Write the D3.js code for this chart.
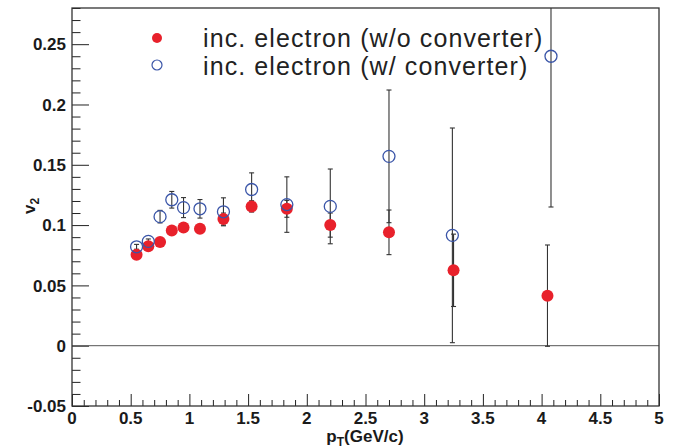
<!DOCTYPE html>
<html>
<head>
<meta charset="utf-8">
<script src="https://cdn.jsdelivr.net/npm/d3@7"></script>
<style>
  body { margin: 0; background: #fff; }
  text { font-family: "Liberation Sans", Arial, Helvetica, sans-serif; }
</style>
</head>
<body>
<div id="chart-area"></div>
<script>
// inc. electron v2 vs pT, with and without converter

var ptNoConv  = [0.55, 0.65, 0.75, 0.85, 0.95, 1.09, 1.29, 1.53, 1.83, 2.2, 2.7, 3.25, 4.05];
var v2NoConv  = [0.0755, 0.0825, 0.086, 0.0955, 0.098, 0.097, 0.105, 0.1155, 0.1135, 0.100, 0.094, 0.0625, 0.0415];
var errNoConv = [0.002, 0.002, 0.002, 0.002, 0.002, 0.002, 0.005, 0.0047, 0.007, 0.01, 0.0185, 0.03, 0.042];

var ptConv  = [0.55, 0.65, 0.75, 0.85, 0.95, 1.09, 1.29, 1.53, 1.83, 2.2, 2.7, 3.24, 4.08];
var v2Conv  = [0.082, 0.0865, 0.107, 0.121, 0.1145, 0.1135, 0.111, 0.1295, 0.117, 0.1155, 0.157, 0.0915, 0.24];
var errConv = [0.002, 0.002, 0.0052, 0.0069, 0.0083, 0.0077, 0.0116, 0.0138, 0.023, 0.031, 0.055, 0.089, 0.125];

var xTickValues = [0, 0.5, 1, 1.5, 2, 2.5, 3, 3.5, 4, 4.5, 5];
var xTickLabels = ["0", "0.5", "1", "1.5", "2", "2.5", "3", "3.5", "4", "4.5", "5"];
var yTickValues = [-0.05, 0, 0.05, 0.1, 0.15, 0.2, 0.25];
var yTickLabels = ["-0.05", "0", "0.05", "0.1", "0.15", "0.2", "0.25"];

var legendLabels = ["inc. electron (w/o converter)", "inc. electron (w/ converter)"];

var margin = {left: 72, right: 24, top: 8, bottom: 42};
var width = 683 - margin.left - margin.right;
var height = 448 - margin.top - margin.bottom;

var red = "#e8212b";
var blue = "#3a55a8";

var svg = d3.select("#chart-area")
  .append("svg")
  .attr("width", 683)
  .attr("height", 448);

var g = svg.append("g")
  .attr("transform", "translate(" + margin.left + "," + margin.top + ")");

var x = d3.scaleLinear()
  .domain([0, 5])
  .range([0, width]);

var y = d3.scaleLinear()
  .domain([-0.05, 0.28])
  .range([height, 0]);

svg.append("clipPath")
  .attr("id", "clip")
  .append("rect")
  .attr("width", width)
  .attr("height", height);

// minor + major ticks (ROOT style, left and bottom only)
var xMinor = d3.range(0, 51).map(function(i) { return i / 10; });
var yMinor = d3.range(-5, 29).map(function(i) { return i / 100; });

var bottomAxis = d3.axisBottom(x)
  .tickValues(xMinor)
  .tickSize(-6)
  .tickFormat("");

g.append("g")
  .attr("transform", "translate(0," + height + ")")
  .call(bottomAxis)
  .call(function(a) {
    a.select(".domain").remove();
    a.selectAll(".tick line")
      .attr("stroke", "#222")
      .attr("y2", function(d) { return Math.abs(d * 2 - Math.round(d * 2)) < 1e-6 ? -12 : -6; });
  });

var leftAxis = d3.axisLeft(y)
  .tickValues(yMinor)
  .tickSize(-8.5)
  .tickFormat("");

g.append("g")
  .call(leftAxis)
  .call(function(a) {
    a.select(".domain").remove();
    a.selectAll(".tick line")
      .attr("stroke", "#222")
      .attr("x2", function(d) { return Math.abs(d * 20 - Math.round(d * 20)) < 1e-6 ? 17 : 8.5; });
  });

// tick labels
g.selectAll(".xlabel")
  .data(xTickValues)
  .enter().append("text")
  .attr("class", "xlabel")
  .attr("x", function(d) { return x(d); })
  .attr("y", height + 18)
  .attr("text-anchor", "middle")
  .attr("font-size", "17px")
  .attr("font-weight", "bold")
  .attr("fill", "#1a1a1a")
  .text(function(d, i) { return xTickLabels[i]; });

g.selectAll(".ylabel")
  .data(yTickValues)
  .enter().append("text")
  .attr("class", "ylabel")
  .attr("x", -6)
  .attr("y", function(d) { return y(d); })
  .attr("dy", "0.36em")
  .attr("text-anchor", "end")
  .attr("font-size", "17px")
  .attr("font-weight", "bold")
  .attr("fill", "#1a1a1a")
  .text(function(d, i) { return yTickLabels[i]; });

// zero line
g.append("line")
  .attr("x1", 0)
  .attr("x2", width)
  .attr("y1", y(0))
  .attr("y2", y(0))
  .attr("stroke", "#555")
  .attr("stroke-width", 1);

// frame
g.append("rect")
  .attr("width", width)
  .attr("height", height)
  .attr("fill", "none")
  .attr("stroke", "#333")
  .attr("stroke-width", 1.3);

// axis titles
var xt = svg.append("text")
  .attr("x", 365)
  .attr("y", 442)
  .attr("text-anchor", "middle")
  .attr("font-size", "16px")
  .attr("font-weight", "bold")
  .attr("fill", "#1a1a1a");
xt.append("tspan").attr("font-size", "17px").text("p");
xt.append("tspan").attr("font-size", "12px").attr("dy", 4).text("T");
xt.append("tspan").attr("font-size", "17px").attr("dy", -4).text("(GeV/c)");

var yt = svg.append("text")
  .attr("transform", "translate(35,206) rotate(-90)")
  .attr("text-anchor", "middle")
  .attr("font-size", "17px")
  .attr("font-weight", "bold")
  .attr("fill", "#1a1a1a");
yt.append("tspan").text("v");
yt.append("tspan").attr("font-size", "12px").attr("dy", 4).text("2");

// data
var noConv = ptNoConv.map(function(p, i) { return {pt: p, v2: v2NoConv[i], err: errNoConv[i]}; });
var conv = ptConv.map(function(p, i) { return {pt: p, v2: v2Conv[i], err: errConv[i]}; });

var plot = g.append("g").attr("clip-path", "url(#clip)");

function errorBars(data) {
  var eb = plot.append("g")
    .selectAll("g")
    .data(data)
    .enter().append("g")
    .attr("stroke", "#333")
    .attr("stroke-width", 1.1);
  eb.append("line")
    .attr("x1", function(d) { return x(d.pt); })
    .attr("x2", function(d) { return x(d.pt); })
    .attr("y1", function(d) { return y(d.v2 - d.err); })
    .attr("y2", function(d) { return y(d.v2 + d.err); });
  [-1, 1].forEach(function(s) {
    eb.append("line")
      .attr("x1", function(d) { return x(d.pt) - 2.5; })
      .attr("x2", function(d) { return x(d.pt) + 2.5; })
      .attr("y1", function(d) { return y(d.v2 + s * d.err); })
      .attr("y2", function(d) { return y(d.v2 + s * d.err); });
  });
}

errorBars(conv);
errorBars(noConv);

plot.append("g")
  .selectAll("circle")
  .data(noConv)
  .enter().append("circle")
  .attr("cx", function(d) { return x(d.pt); })
  .attr("cy", function(d) { return y(d.v2); })
  .attr("r", 6)
  .attr("fill", red);

plot.append("g")
  .selectAll("circle")
  .data(conv)
  .enter().append("circle")
  .attr("cx", function(d) { return x(d.pt); })
  .attr("cy", function(d) { return y(d.v2); })
  .attr("r", 6)
  .attr("fill", "none")
  .attr("stroke", blue)
  .attr("stroke-width", 1.3);

// legend
var legend = svg.append("g");

legend.append("circle")
  .attr("cx", 157)
  .attr("cy", 38)
  .attr("r", 5)
  .attr("fill", red);

legend.append("circle")
  .attr("cx", 157)
  .attr("cy", 65)
  .attr("r", 5)
  .attr("fill", "none")
  .attr("stroke", blue)
  .attr("stroke-width", 1.2);

legendLabels.forEach(function(l, i) {
  legend.append("text")
    .attr("x", 203)
    .attr("y", 47 + i * 28)
    .attr("font-size", "25px")
    .attr("letter-spacing", "1.1px")
    .attr("fill", "#222")
    .text(l);
});
</script>
</body>
</html>
